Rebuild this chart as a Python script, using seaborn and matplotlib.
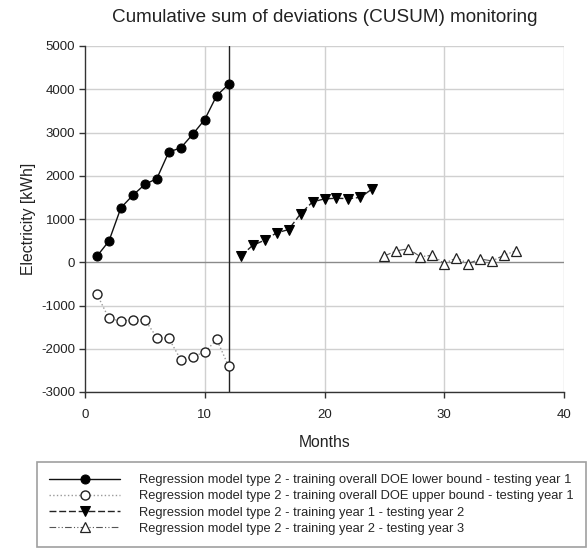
import numpy as np
import pandas as pd
import matplotlib
matplotlib.use("Agg")
import matplotlib.pyplot as plt
import seaborn as sns

months1 = list(range(1, 13))
lower_y1 = [140, 490, 1260, 1550, 1800, 1935, 2550, 2645, 2960, 3300, 3855, 4115]
upper_y1 = [-740, -1300, -1360, -1325, -1330, -1740, -1760, -2255, -2180, -2080, -1785, -2410]
months2 = list(range(13, 25))
year1_y2 = [140, 390, 510, 680, 755, 1120, 1395, 1465, 1480, 1470, 1500, 1700]
months3 = list(range(25, 37))
year2_y3 = [145, 265, 310, 130, 160, -30, 105, -30, 75, 30, 165, 265]

labels = [
    "Regression model type 2 - training overall DOE lower bound - testing year 1",
    "Regression model type 2 - training overall DOE upper bound - testing year 1",
    "Regression model type 2 - training year 1 - testing year 2",
    "Regression model type 2 - training year 2 - testing year 3",
]

sns.set_theme(style="white")
plt.rcParams["font.family"] = ["Liberation Sans", "DejaVu Sans"]
plt.rcParams["axes.unicode_minus"] = False

fig = plt.figure(figsize=(5.87, 5.48), dpi=100)
ax = fig.add_axes([85/587, 1-392/548, (564-85)/587, (392-46)/548])

ax.set_xlim(0, 40)
ax.set_ylim(-3000, 5000)
ax.set_xticks([0, 10, 20, 30, 40])
ax.set_yticks(range(-3000, 5001, 1000))
for v in [10, 20, 30, 40]:
    ax.axvline(v, color="#d0d0d0", lw=1, zorder=0)
for v in range(-3000, 5001, 1000):
    if v != 0:
        ax.axhline(v, color="#d0d0d0", lw=1, zorder=0)
ax.axhline(0, color="#8a8a8a", lw=1, zorder=0.5)
ax.axvline(12, color="#222222", lw=1, zorder=1)

d1 = pd.DataFrame({"m": months1, "v": lower_y1})
d2 = pd.DataFrame({"m": months1, "v": upper_y1})
d3 = pd.DataFrame({"m": months2, "v": year1_y2})
d4 = pd.DataFrame({"m": months3, "v": year2_y3})

ms = 6.5
sns.lineplot(data=d1, x="m", y="v", ax=ax, color="#111111", lw=1, marker="o",
             markersize=ms, markerfacecolor="black", markeredgecolor="black",
             label=labels[0], zorder=3)
sns.lineplot(data=d2, x="m", y="v", ax=ax, color="#999999", lw=1, linestyle=":",
             marker="o", markersize=ms, markerfacecolor="white",
             markeredgecolor="#222222", markeredgewidth=1, label=labels[1], zorder=3)
sns.lineplot(data=d3, x="m", y="v", ax=ax, color="#222222", lw=1, linestyle=(0, (5, 2)),
             marker="v", markersize=ms, markerfacecolor="black", markeredgecolor="black",
             label=labels[2], zorder=3)
sns.lineplot(data=d4, x="m", y="v", ax=ax, color="#555555", lw=0.8,
             linestyle=(0, (6, 2, 1, 2, 1, 2)),
             marker="^", markersize=ms, markerfacecolor="white",
             markeredgecolor="#222222", markeredgewidth=0.9, label=labels[3], zorder=3)

for s in ["top", "right"]:
    ax.spines[s].set_visible(False)
for s in ["left", "bottom"]:
    ax.spines[s].set_color("#333333")
    ax.spines[s].set_linewidth(1)
ax.tick_params(axis="both", direction="out", length=4, width=1, color="#333333",
               labelsize=9.5, labelcolor="#222222", bottom=True, left=True, pad=3)
ax.tick_params(axis="x", pad=8)
ax.set_xlabel("Months", fontsize=11.3, color="#222222", labelpad=10)
ax.set_ylabel("Electricity [kWh]", fontsize=11.3, color="#222222", labelpad=4)
ax.set_title("Cumulative sum of deviations (CUSUM) monitoring", fontsize=13.6,
             color="#222222", pad=17)

handles, labs = ax.get_legend_handles_labels()
ax.get_legend().remove()
leg = fig.legend(handles, labs, loc="upper left", bbox_to_anchor=(37/587, 1-462/548),
                 fontsize=9.3, frameon=True, fancybox=False, handlelength=5.5,
                 handletextpad=1.45, borderpad=0.95, labelspacing=0.32,
                 borderaxespad=0)
leg.get_frame().set_edgecolor("#888888")
leg.get_frame().set_linewidth(1.2)

fig.savefig("out.png", dpi=100)
